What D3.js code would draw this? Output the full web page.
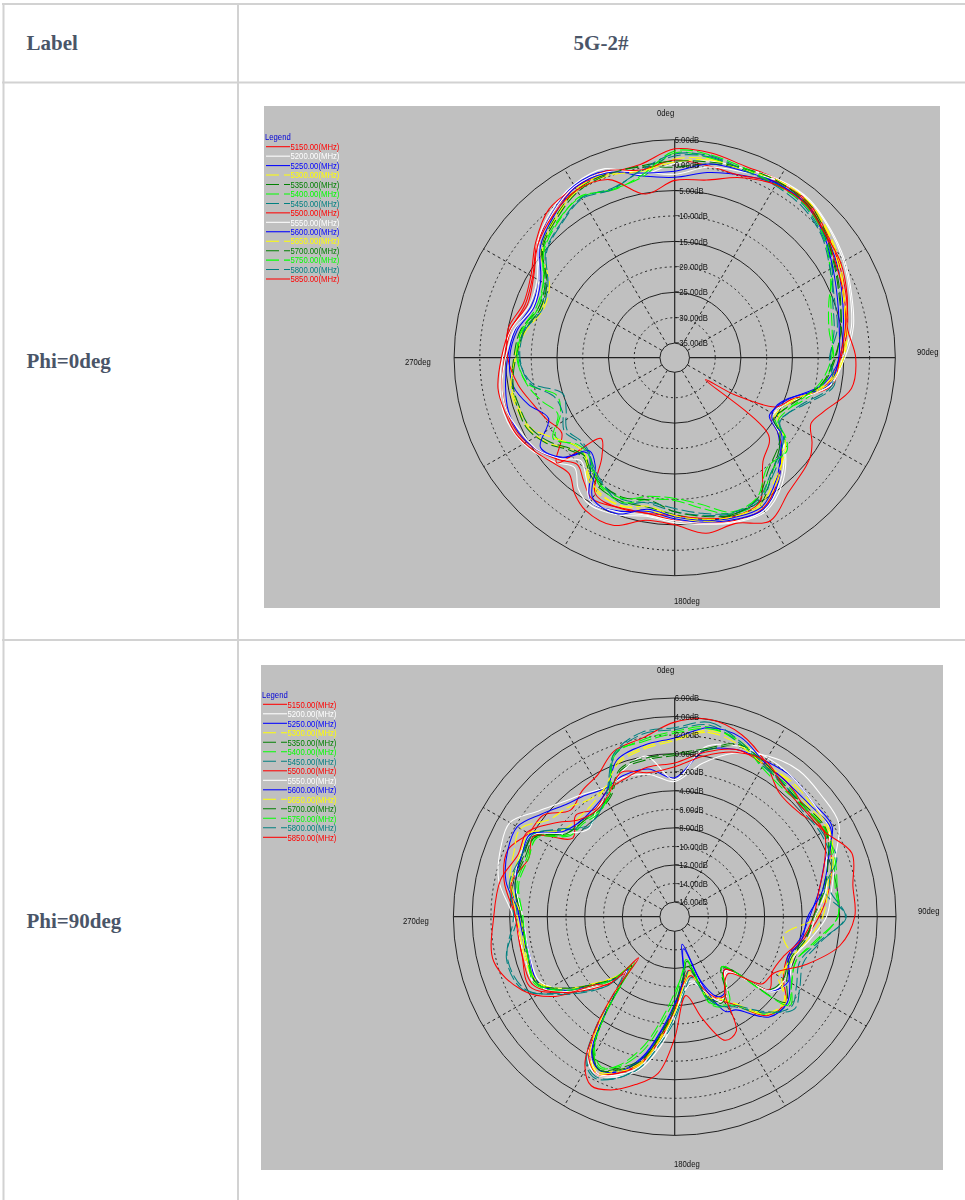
<!DOCTYPE html>
<html><head><meta charset="utf-8">
<script src="https://cdn.jsdelivr.net/npm/d3@7/dist/d3.min.js"></script>
<style>html,body{margin:0;padding:0;background:#fff}svg{display:block}</style>
</head><body><div id="c"></div>
<script>
const frequencies=["5150.00(MHz)","5200.00(MHz)","5250.00(MHz)","5300.00(MHz)","5350.00(MHz)","5400.00(MHz)","5450.00(MHz)","5500.00(MHz)","5550.00(MHz)","5600.00(MHz)","5650.00(MHz)","5700.00(MHz)","5750.00(MHz)","5800.00(MHz)","5850.00(MHz)"];
const seriesColors=["#ff0000","#ffffff","#0000ff","#ffff00","#008000","#00ff00","#008080","#ff0000","#ffffff","#0000ff","#ffff00","#008000","#00ff00","#008080","#ff0000"];
const seriesDashed=[0,0,0,1,1,1,1,0,0,0,1,1,1,1,0];
const rowLabels=["Label","Phi=0deg","Phi=90deg"];
const columnTitle="5G-2#";
const phi0Rings=[5,0,-5,-10,-15,-20,-25,-30,-35];
const phi0Dashed=[0,1,0,1,0,1,0,1,0];
const phi90Rings=[6,4,2,0,-2,-4,-6,-8,-10,-12,-14,-16];
const phi90Dashed=[0,0,1,0,1,0,1,0,1,0,1,0];
const spokeAngles=[0,30,60,90,120,150,180,210,240,270,300,330];

const phi0Angles=[0,10,20,30,40,50,60,70,80,90,100,110,116,122,126,130,140,150,160,170,180,190,200,210,216,222,228,236,244,252,260,270,280,290,300,310,320,330,340,350];
const phi0Values=[
[3.2,3.0,2.2,2.5,2.3,0.6,-1.0,-2.4,-3.8,-5.6,-7.8,-13.0,-15.2,-15.8,-13.2,-10.8,-6.6,-3.6,-3.8,-4.8,-5.9,-6.8,-6.5,-5.8,-7.8,-9.6,-7.8,-5.5,-4.0,-3.6,-3.8,-4.8,-5.6,-7.0,-6.0,-3.0,-0.9,0.8,0.6,0.7],
[0.3,1.4,1.7,2.6,2.8,1.6,0.3,-1.3,-2.6,-4.8,-7.2,-13.4,-15.4,-15.6,-12.4,-9.8,-5.4,-2.8,-3.4,-4.6,-5.4,-6.2,-5.0,-4.6,-6.0,-8.8,-7.0,-4.8,-3.4,-2.9,-3.4,-4.4,-5.6,-7.8,-7.0,-3.0,-0.4,1.4,1.7,-1.3],
[-2.4,-0.9,0.3,1.6,1.8,0.2,-1.4,-3.2,-4.6,-5.8,-8.4,-14.2,-15.8,-16.2,-13.2,-11.2,-6.4,-3.4,-4.0,-5.0,-6.2,-7.2,-5.8,-5.2,-10.0,-12.6,-8.4,-5.6,-4.2,-3.9,-4.5,-5.4,-6.4,-8.2,-7.4,-3.4,-0.8,1.2,1.2,-1.6],
[1.2,1.8,1.6,2.2,2.0,0.8,-1.2,-3.0,-4.2,-5.2,-8.0,-13.4,-15.0,-15.2,-12.6,-10.6,-6.6,-4.2,-4.4,-5.2,-6.6,-7.4,-7.0,-7.4,-9.0,-11.8,-11.0,-8.0,-6.2,-5.6,-5.4,-6.8,-7.8,-10.2,-9.2,-3.8,-1.8,0.4,0.6,-0.8],
[-0.4,0.8,1.6,2.0,2.2,0.4,-1.8,-3.6,-5.2,-6.6,-8.6,-13.2,-15.2,-15.6,-12.8,-11.2,-8.4,-4.6,-4.8,-5.6,-7.0,-8.0,-7.8,-8.4,-9.8,-11.4,-10.6,-7.8,-6.0,-5.8,-5.8,-6.6,-7.4,-9.6,-8.8,-4.2,-1.8,0.2,0.6,0.2],
[2.4,2.0,1.4,1.8,1.6,0.0,-2.4,-6.0,-7.4,-7.0,-8.6,-12.0,-14.4,-14.8,-11.6,-9.8,-8.6,-5.2,-5.2,-7.8,-9.8,-9.6,-7.6,-8.8,-10.6,-11.8,-12.0,-10.0,-13.2,-13.8,-8.8,-7.4,-7.8,-9.6,-8.4,-4.6,-2.6,-1.4,-2.6,-1.8],
[1.8,2.2,1.2,1.6,1.2,-0.4,-2.6,-5.2,-6.4,-7.6,-6.4,-11.0,-13.2,-13.8,-11.6,-10.4,-8.0,-5.2,-5.2,-6.4,-7.6,-8.8,-8.2,-9.4,-10.8,-13.0,-13.4,-12.6,-14.4,-15.0,-9.6,-7.6,-8.0,-10.0,-9.0,-5.2,-3.4,-1.6,-2.4,-0.6],
[1.0,0.4,0.2,2.0,2.0,0.2,-1.6,-2.8,-4.2,-5.8,-6.8,-13.8,-15.8,-24.0,-30.5,-14.0,-11.2,-5.0,-4.6,-5.8,-6.8,-6.8,-6.4,-7.0,-13.8,-16.5,-7.0,-11.4,-10.2,-8.8,-7.0,-5.4,-5.0,-6.6,-5.6,-2.6,0.2,0.8,1.2,-0.4],
[-1.8,0.2,1.0,2.3,2.6,1.4,0.0,-1.6,-3.0,-5.2,-7.0,-13.2,-15.2,-15.6,-12.8,-10.2,-6.0,-3.2,-3.6,-4.8,-5.8,-6.4,-5.6,-5.2,-8.6,-10.6,-8.2,-5.6,-4.6,-3.6,-3.8,-5.0,-6.2,-8.6,-7.4,-3.4,-0.9,1.0,1.0,-0.8],
[-1.2,0.8,1.2,1.8,1.6,-0.1,-2.4,-4.2,-5.4,-6.0,-7.4,-14.4,-16.0,-15.6,-12.2,-10.8,-7.0,-4.0,-4.4,-5.4,-6.6,-7.6,-5.2,-6.0,-11.6,-13.2,-8.6,-6.4,-10.6,-8.0,-6.0,-5.8,-6.8,-8.8,-7.8,-3.8,-1.4,0.8,0.8,-1.0],
[0.6,1.6,1.4,2.4,2.4,1.0,-0.8,-2.8,-3.8,-5.0,-7.6,-13.4,-14.6,-14.4,-11.6,-9.8,-7.2,-4.6,-4.6,-5.6,-6.8,-8.2,-6.8,-7.8,-9.4,-12.0,-12.0,-9.6,-6.6,-6.0,-5.6,-7.0,-8.4,-10.6,-9.8,-4.4,-2.0,0.0,0.2,-0.6],
[0.8,1.2,1.8,2.2,1.8,0.2,-2.0,-3.8,-5.0,-6.8,-8.8,-12.8,-14.4,-15.2,-12.6,-11.4,-9.4,-5.8,-5.0,-6.2,-7.6,-9.4,-8.6,-9.2,-10.2,-11.8,-11.0,-8.4,-6.6,-6.2,-6.0,-7.0,-8.2,-10.0,-9.2,-4.4,-2.2,-0.2,0.4,0.4],
[2.8,2.6,1.8,1.4,1.4,-0.2,-3.0,-5.6,-6.8,-7.4,-9.2,-12.4,-13.8,-14.2,-11.2,-9.4,-9.8,-6.0,-5.6,-8.6,-10.2,-10.2,-8.4,-9.0,-11.0,-12.6,-12.4,-9.4,-12.6,-10.6,-8.6,-7.2,-7.6,-9.2,-8.4,-4.8,-2.8,-1.2,-2.8,-1.4],
[2.2,2.4,1.4,1.2,0.8,-0.6,-3.0,-4.8,-5.8,-7.8,-6.8,-11.4,-13.2,-14.0,-11.8,-10.6,-8.6,-5.6,-5.4,-6.8,-8.2,-9.0,-7.4,-9.6,-11.2,-12.8,-13.0,-12.0,-13.6,-13.2,-9.2,-7.8,-8.2,-10.4,-9.4,-5.4,-3.6,-1.8,-2.6,-0.4],
[-3.0,-2.4,-0.2,1.4,1.6,0.2,-0.6,-2.2,-3.8,-2.7,-3.0,-7.0,-8.4,-6.4,-5.2,-4.6,-3.4,-0.8,-3.2,-2.8,-5.0,-5.4,-2.8,-3.2,-4.8,-7.2,-6.6,-5.0,-3.6,-3.2,-3.0,-4.2,-5.4,-7.4,-6.2,-3.2,-1.2,0.2,-0.6,-5.2]
];

const phi90Angles=[0,10,20,30,40,50,60,70,80,90,100,110,120,128,137,147,152,158,165,172,180,186,193,200,206,211,215,218,221,224,229,236,244,256,270,282,292,300,308,316,324,332,340,350];
const phi90Values=[
[3.4,4.0,3.3,1.7,-0.2,-0.2,0.9,0.2,-0.9,-2.2,-3.6,-4.8,-4.2,-2.6,-3.0,-6.4,-7.4,-8.8,-11.6,-10.6,-7.6,-5.0,-1.4,0.4,1.4,-0.2,-4.2,-7.8,-9.6,-8.2,-6.2,-3.0,-0.4,-0.8,-0.6,1.0,1.6,0.4,0.2,-1.6,-0.8,-0.2,1.4,2.0],
[-3.0,-0.8,1.2,2.4,3.0,2.8,2.6,0.6,-0.6,-1.4,-3.0,-4.2,-3.6,-4.4,-9.6,-7.6,-7.4,-9.6,-10.4,-10.2,-6.6,-3.6,-0.6,0.8,1.4,0.4,-3.2,-7.0,-9.8,-7.8,-5.8,-3.2,-1.0,-1.0,-0.4,1.6,2.4,2.7,0.9,-0.4,-1.2,-1.8,-1.6,-2.0],
[-2.6,0.6,1.6,1.8,2.0,1.6,1.8,-0.6,-2.0,-3.2,-4.0,-4.8,-3.6,-4.6,-9.8,-7.8,-7.8,-10.0,-14.5,-10.8,-8.2,-5.6,-2.0,0.2,0.8,-0.6,-4.4,-8.0,-10.2,-8.4,-6.6,-3.8,-1.4,-1.6,-1.2,0.8,1.6,1.8,0.4,-0.8,-1.4,-1.9,-1.4,-1.4],
[1.6,2.8,2.6,1.6,1.4,1.0,1.2,0.2,-1.2,-2.4,-5.8,-4.2,-4.8,-2.6,-3.4,-6.6,-7.6,-8.6,-11.4,-10.4,-7.4,-4.8,-1.4,0.0,1.0,-0.4,-4.0,-7.6,-10.4,-8.6,-6.6,-3.6,-1.2,-1.0,-0.8,0.4,0.9,1.4,-0.6,-1.2,-2.0,-1.8,0.2,1.0],
[-0.2,0.6,2.0,1.4,0.6,0.8,1.1,-0.2,-1.6,-2.6,-3.6,-4.6,-4.2,-4.8,-10.0,-7.4,-7.2,-8.4,-12.6,-10.8,-7.6,-5.0,-1.8,-0.2,0.8,-0.6,-4.4,-8.2,-10.6,-8.2,-6.4,-3.6,-1.4,-1.2,-1.2,-0.2,-0.2,-0.2,-3.0,-3.2,-3.6,-3.0,-0.8,-0.4],
[2.4,3.2,2.4,1.2,1.0,0.6,0.8,0.4,-0.2,-0.2,-2.4,-3.8,-3.2,-2.2,-3.2,-6.2,-6.8,-7.6,-12.8,-11.6,-8.8,-6.4,-2.8,-0.4,0.4,-1.0,-4.6,-8.4,-10.2,-8.0,-6.2,-3.4,-1.0,-1.4,-1.4,-0.4,-0.6,-0.4,-3.2,-3.4,-3.6,-2.8,1.0,1.8],
[2.6,3.4,2.4,1.2,0.8,0.4,0.6,0.8,-1.4,0.7,-2.0,-3.4,-2.6,-1.8,-3.4,-6.0,-6.6,-8.0,-11.6,-10.0,-6.8,-4.4,-1.0,1.0,1.6,0.6,-3.0,-7.2,-9.4,-7.2,-5.4,-2.8,0.4,0.9,-0.8,0.2,0.0,0.0,-2.4,-4.2,-3.8,-2.4,1.0,2.4],
[-1.0,0.4,1.6,1.4,1.2,0.6,0.8,-0.6,-2.0,-2.8,-3.8,-5.2,-5.6,-4.8,-9.8,-7.6,-7.6,-9.0,-11.0,-10.4,-7.4,-4.6,-1.2,0.4,1.2,0.2,-3.6,-7.4,-9.4,-7.6,-5.6,-3.0,-0.8,-0.8,-0.6,0.2,-0.8,-0.2,-3.8,-2.4,-3.2,-2.2,-1.8,-1.2],
[-2.8,1.0,2.0,2.2,2.0,1.6,1.4,-0.4,-1.2,-2.6,-3.2,-4.4,-4.0,-4.6,-9.4,-7.4,-7.2,-8.8,-10.2,-9.6,-7.2,-4.2,-1.0,0.6,1.2,-0.2,-3.8,-7.6,-9.8,-8.4,-6.2,-3.6,-1.6,-1.6,-1.4,-0.2,0.2,0.0,-3.0,-4.4,-3.4,-2.6,-1.0,0.0],
[1.7,3.1,3.0,1.6,1.2,1.2,1.6,-0.2,-1.6,-3.4,-3.8,-4.6,-3.4,-2.4,-2.8,-5.6,-6.0,-9.6,-14.0,-11.0,-8.0,-5.4,-1.8,0.2,0.8,-0.4,-4.2,-7.8,-10.0,-8.2,-6.4,-3.4,-1.2,-1.4,-1.0,-0.2,0.0,0.2,-2.6,-3.2,-3.0,-2.2,0.4,1.2],
[1.4,2.6,2.2,1.4,1.6,1.4,1.4,0.4,-1.0,-1.8,-3.2,-4.4,-4.4,-2.8,-3.2,-6.6,-7.6,-8.2,-11.2,-10.2,-7.2,-4.6,-1.2,0.2,1.2,0.0,-3.6,-7.4,-10.6,-8.6,-6.8,-3.8,-1.4,-1.2,-1.2,0.2,0.2,0.4,-2.4,-2.8,-2.6,-1.8,0.0,0.8],
[0.0,0.8,2.2,1.6,0.8,0.6,1.0,-0.2,-1.4,-2.8,-3.4,-4.4,-3.8,-2.6,-10.2,-7.6,-7.0,-8.2,-12.0,-11.0,-8.0,-5.2,-1.6,0.0,0.8,-0.8,-4.6,-8.2,-10.6,-8.4,-6.6,-3.8,-1.2,-1.4,-1.2,-0.2,-0.4,-0.4,-3.0,-3.4,-3.4,-2.8,-0.6,-0.2],
[2.2,3.0,2.6,1.0,0.4,0.6,1.0,0.6,0.0,-0.2,-2.2,-3.8,-3.2,-2.0,-10.2,-6.8,-6.6,-7.4,-12.6,-11.4,-9.4,-7.0,-3.4,-0.6,0.6,-0.8,-4.6,-8.6,-11.0,-8.2,-6.4,-3.4,-1.2,-1.4,-1.4,-0.6,-0.8,-0.6,-3.4,-3.6,-3.8,-2.6,1.2,1.6],
[2.8,3.7,2.6,1.4,0.8,0.2,0.4,0.2,-0.8,0.6,-1.8,-3.0,-2.2,-1.4,-3.6,-6.2,-6.6,-8.0,-10.8,-9.6,-6.4,-4.0,-0.8,1.0,1.8,0.8,-2.8,-7.0,-9.0,-7.2,-5.2,-2.6,0.2,0.8,-0.4,0.4,0.0,0.0,-2.2,-4.0,-3.8,-2.2,1.2,2.6],
[-1.4,0.0,1.3,1.8,0.6,0.4,0.8,2.5,1.7,1.6,0.3,-2.6,-5.4,-5.8,-9.2,-7.8,-3.6,-3.2,-6.2,-9.0,-4.5,-0.6,1.0,2.3,2.7,1.0,-2.9,-6.9,-11.7,-7.4,-6.4,-2.2,0.5,2.3,1.7,1.4,0.4,0.6,-1.2,-3.0,-3.4,-2.6,-1.0,-1.8]
];

const W=965,H=1200;
const svg=d3.select("#c").append("svg").attr("width",W).attr("height",H).attr("viewBox",`0 0 ${W} ${H}`);
const defs=svg.append("defs");
defs.append("filter").attr("id","soft").attr("x",0).attr("y",0).attr("width",1).attr("height",1)
  .append("feGaussianBlur").attr("stdDeviation",0.5);

// table
svg.append("rect").attr("width",W).attr("height",H).attr("fill","#fff");
const border="#d2d2d2";
const hLines=[4,82.5,640],vLines=[3.5,238];
svg.selectAll("line.h").data(hLines).join("line").attr("class","h").attr("x1",2).attr("x2",W).attr("y1",d=>d).attr("y2",d=>d).attr("stroke",border).attr("stroke-width",2);
svg.selectAll("line.v").data(vLines).join("line").attr("class","v").attr("y1",3).attr("y2",H).attr("x1",d=>d).attr("x2",d=>d).attr("stroke",border).attr("stroke-width",2);
const tblFont="'Liberation Serif',serif";
svg.selectAll("text.row").data(rowLabels).join("text").attr("class","row")
  .attr("x",26.5).attr("y",(d,i)=>[50,368,928][i]).text(d=>d)
  .attr("font-family",tblFont).attr("font-weight","bold").attr("font-size",21).attr("fill","#4a5568");
svg.append("text").attr("x",601).attr("y",50).attr("text-anchor","middle").text(columnTitle)
  .attr("font-family",tblFont).attr("font-weight","bold").attr("font-size",21).attr("fill","#4a5568");

const SMALL=9.2, NARROW=0.84;
function narrow(sel){
  sel.attr("font-family","'Liberation Sans',Arial,sans-serif").attr("font-size",SMALL);
  sel.each(function(){
    const len=this.getComputedTextLength();
    this.setAttribute("textLength",(len*NARROW).toFixed(2));
    this.setAttribute("lengthAdjust","spacingAndGlyphs");
  });
  return sel;
}

function panel(cfg){
  const g=svg.append("g").attr("filter","url(#soft)");
  g.append("rect").attr("x",cfg.box[0]).attr("y",cfg.box[1]).attr("width",cfg.box[2]).attr("height",cfg.box[3]).attr("fill","#c0c0c0");
  const r=d3.scaleLinear().domain([cfg.rings[cfg.rings.length-1],cfg.rings[0]]).range([cfg.hub,cfg.R]);
  const ink="#222222";
  const sx=cfg.sx;
  const px=(a,v)=>cfg.cx+r(v)*Math.sin(a*Math.PI/180)*sx;
  const py=(a,v)=>cfg.cy-r(v)*Math.cos(a*Math.PI/180);
  g.selectAll("ellipse.ring").data(cfg.rings).join("ellipse").attr("class","ring")
    .attr("cx",cfg.cx).attr("cy",cfg.cy).attr("rx",d=>r(d)*sx).attr("ry",d=>r(d))
    .attr("fill","none").attr("stroke",ink).attr("stroke-width",1)
    .attr("stroke-dasharray",(d,i)=>cfg.dashed[i]?"2 3":null);
  const inner=cfg.rings[cfg.rings.length-1],outer=cfg.rings[0];
  g.selectAll("line.spoke").data(spokeAngles).join("line").attr("class","spoke")
    .attr("x1",a=>px(a,inner)).attr("y1",a=>py(a,inner)).attr("x2",a=>px(a,outer)).attr("y2",a=>py(a,outer))
    .attr("stroke",ink).attr("stroke-width",a=>a%90===0?1.2:1).attr("stroke-dasharray",a=>a%90===0?null:"3 3");
  const path=d3.line().x(d=>px(d[0],d[1])).y(d=>py(d[0],d[1])).curve(d3.curveCatmullRomClosed.alpha(0.5));
  g.selectAll("path.trace").data(cfg.values).join("path").attr("class","trace")
    .attr("d",v=>path(cfg.angles.map((a,i)=>[a,v[i]])))
    .attr("fill","none").attr("stroke-width",1.05)
    .attr("stroke",(v,i)=>seriesColors[i])
    .attr("stroke-dasharray",(v,i)=>seriesDashed[i]?"13 4":null);
  narrow(g.selectAll("text.db").data(cfg.rings).join("text").attr("class","db")
    .attr("x",cfg.cx).attr("y",d=>cfg.cy-r(d)+3.2)
    .text(d=>d3.format(".2f")(d)+"dB").attr("fill","#111"));
  narrow(g.selectAll("text.deg").data(cfg.degs).join("text").attr("class","deg")
    .attr("x",d=>d[1]).attr("y",d=>d[2]+3.2).text(d=>d[0]).attr("fill","#111"));
  const ly=d3.scaleLinear().domain([0,1]).range([cfg.legY,cfg.legY+cfg.legStep]);
  narrow(g.append("text").attr("x",cfg.legX).attr("y",cfg.legY-cfg.legStep+3.2).text("Legend").attr("fill","#0000d8"));
  g.selectAll("line.leg").data(frequencies).join("line").attr("class","leg")
    .attr("x1",cfg.legX+1).attr("x2",cfg.legX+25).attr("y1",(d,i)=>ly(i)).attr("y2",(d,i)=>ly(i))
    .attr("stroke",(d,i)=>seriesColors[i]).attr("stroke-width",1.05)
    .attr("stroke-dasharray",(d,i)=>seriesDashed[i]?"13 5":null);
  narrow(g.selectAll("text.leg").data(frequencies).join("text").attr("class","leg")
    .attr("x",cfg.legX+25.5).attr("y",(d,i)=>ly(i)+3.2).text(d=>d)
    .attr("fill",(d,i)=>seriesColors[i]));
}

panel({box:[264,106,676,502],cx:674.7,cy:357.7,R:218,hub:14.6,sx:1.012,
  rings:phi0Rings,dashed:phi0Dashed,angles:phi0Angles,values:phi0Values,
  degs:[["0deg",657,113],["180deg",674,601],["90deg",917,352],["270deg",405,362]],
  legX:265,legY:146.7,legStep:9.45});
panel({box:[261,665,682,505],cx:674.7,cy:916.7,R:218.7,hub:14.6,sx:1.012,
  rings:phi90Rings,dashed:phi90Dashed,angles:phi90Angles,values:phi90Values,
  degs:[["0deg",657,670],["180deg",674,1164],["90deg",918,911],["270deg",403,921]],
  legX:262,legY:704.3,legStep:9.5});
</script>
</body></html>
